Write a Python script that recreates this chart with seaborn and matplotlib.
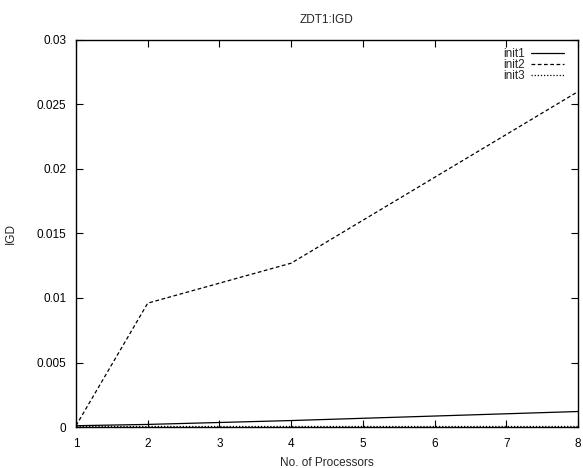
import matplotlib
matplotlib.use("Agg")
import matplotlib.pyplot as plt
import seaborn as sns
import pandas as pd
from matplotlib.lines import Line2D

processors = [1, 2, 4, 8]
init1 = [0.0001, 0.0002, 0.0005, 0.0012]
init2 = [0.0001, 0.0096, 0.0127, 0.0260]
init3 = [0.0001, 0.0001, 0.0001, 0.0001]

df = pd.DataFrame({
    "procs": processors * 3,
    "igd": init1 + init2 + init3,
    "series": ["init1"] * 4 + ["init2"] * 4 + ["init3"] * 4,
})

sns.set_theme(style="ticks")
plt.rcParams["font.family"] = ["Liberation Sans", "DejaVu Sans"]

fig = plt.figure(figsize=(5.83, 4.68), dpi=100)
ax = fig.add_axes([76 / 583, 1 - 427 / 468, (578 - 76) / 583, (427 - 40) / 468])

dashes = {"init1": "", "init2": (3, 2), "init3": (1, 1.5)}
sns.lineplot(data=df, x="procs", y="igd", hue="series", style="series",
             dashes=dashes, palette=["black"] * 3, linewidth=0.9, ax=ax,
             legend=False)

ax.set_xlim(1, 8)
ax.set_ylim(0, 0.03)
ax.set_xticks(range(1, 9))
ax.set_yticks([0, 0.005, 0.01, 0.015, 0.02, 0.025, 0.03])
ax.set_yticklabels(["0", "0.005", "0.01", "0.015", "0.02", "0.025", "0.03"])
ax.tick_params(direction="in", top=True, right=True, length=5, width=0.8,
               labelsize=8.5, colors="black")
ax.tick_params(axis="x", pad=8)
ax.tick_params(axis="y", pad=7)
for s in ax.spines.values():
    s.set_linewidth(1.0)
    s.set_color("black")

ax.set_xlabel("No. of Processors", fontsize=8.5, labelpad=5)
ax.set_ylabel("IGD", fontsize=8.5)
ax.yaxis.set_label_coords(-0.117, 0.5)
ax.set_title("ZDT1:IGD", fontsize=8.5, pad=12)

handles = [Line2D([], [], color="black", lw=0.9,
                  linestyle=(0, dashes[k]) if dashes[k] else "-")
           for k in ["init1", "init2", "init3"]]
ax.legend(handles, ["init1", "init2", "init3"], loc="upper right",
          bbox_to_anchor=((564 - 76) / 502, 1 - 8 / 387),
          frameon=False, fontsize=8.5, markerfirst=False, handlelength=2.8,
          labelspacing=-0.08, borderpad=0, borderaxespad=0, handletextpad=0.5)

fig.savefig("out.png", dpi=100)
